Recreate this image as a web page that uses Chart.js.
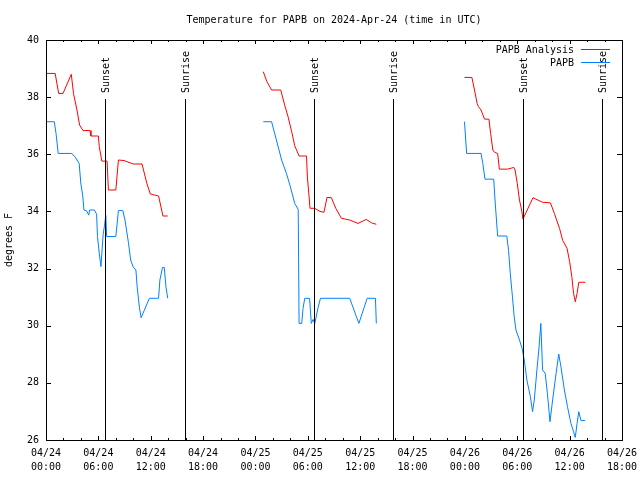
<!DOCTYPE html>
<html>
<head>
<meta charset="utf-8">
<script src="https://cdn.jsdelivr.net/npm/chart.js@4.4.1/dist/chart.umd.min.js"></script>
<style>
    html, body { margin: 0; padding: 0; background: #fff; }
</style>
</head>
<body>
<canvas id="tempChart" width="640" height="480"></canvas>
<script>
// hours counted from 04/24 00:00 UTC
const dayLabels = ['04/24', '04/25', '04/26'];
const sunHours = [6.72, 15.88, 30.69, 39.8, 54.71, 63.75];
const sunLabels = ['Sunset', 'Sunrise', 'Sunset', 'Sunrise', 'Sunset', 'Sunrise'];

const analysisHours = [
    0.1, 1.05, 1.45, 1.95, 2.9, 3.15, 3.55, 3.85, 4.25, 5.05, 5.15, 6.0, 6.1, 6.4, 7.0, 7.15, 8.0, 8.3, 8.95, 10.0, 11.0, 11.55, 11.95, 12.9, 13.4, 13.95,
    24.9, 25.3, 25.85, 26.9, 27.35, 27.75, 28.15, 28.5, 29.0, 29.85, 29.95, 30.15, 30.25, 30.8, 31.4, 31.85, 32.2, 32.7, 33.2, 33.85, 34.8, 35.75, 36.7, 37.3, 37.85,
    47.95, 48.8, 49.1, 49.4, 49.55, 49.85, 50.25, 50.75, 50.95, 51.2, 51.4, 51.75, 51.95, 52.9, 53.6, 53.75, 54.0, 54.25, 54.5, 54.65, 55.8, 56.9, 57.8, 58.25, 58.85, 59.2, 59.7, 60.0, 60.25, 60.45, 60.65, 60.85, 61.05, 61.8
];
const analysisTemps = [
    38.83, 38.83, 38.13, 38.13, 38.8, 38.13, 37.55, 37.02, 36.83, 36.83, 36.64, 36.64, 36.27, 35.76, 35.76, 34.75, 34.75, 35.8, 35.78, 35.66, 35.66, 34.99, 34.61, 34.54, 33.84, 33.84,
    38.89, 38.55, 38.25, 38.25, 37.72, 37.3, 36.79, 36.3, 35.94, 35.94, 35.2, 34.5, 34.11, 34.11, 34.0, 33.97, 34.49, 34.48, 34.11, 33.76, 33.7, 33.58, 33.72, 33.6, 33.55,
    38.69, 38.69, 38.25, 37.78, 37.67, 37.55, 37.23, 37.23, 36.73, 36.15, 36.07, 36.03, 35.48, 35.48, 35.54, 35.45, 34.98, 34.4, 34.05, 33.73, 34.48, 34.32, 34.3, 33.93, 33.4, 32.99, 32.71, 32.24, 31.72, 31.13, 30.84, 31.13, 31.52, 31.52
];

const obsHours = [
    0.1, 0.95, 1.15, 1.4, 2.95, 3.35, 3.8, 4.0, 4.2, 4.35, 4.65, 4.9, 5.0, 5.55, 5.8, 5.9, 6.1, 6.3, 6.4, 6.55, 6.7, 6.85, 6.95, 8.0, 8.3, 8.8, 9.05, 9.45, 9.7, 10.0, 10.3, 10.45, 10.7, 10.9, 11.85, 12.9, 13.05, 13.35, 13.55, 13.75, 13.95,
    24.9, 25.85, 26.4, 27.0, 27.55, 27.95, 28.5, 28.9, 29.0, 29.3, 29.45, 29.65, 30.2, 30.4, 30.6, 30.8, 31.15, 31.45, 34.8, 35.85, 36.8, 37.75, 37.85,
    47.95, 48.2, 49.85, 50.05, 50.3, 51.3, 51.45, 51.75, 52.8, 53.0, 53.2, 53.45, 53.65, 53.85, 54.25, 54.55, 54.8, 55.1, 55.5, 55.75, 55.95, 56.25, 56.5, 56.7, 56.9, 57.2, 57.45, 57.75, 58.05, 58.45, 58.75, 59.0, 59.4, 59.75, 60.15, 60.45, 60.65, 60.85, 61.05, 61.3, 61.75
];
const obsTemps = [
    37.14, 37.14, 36.73, 36.03, 36.03, 35.9, 35.68, 34.95, 34.57, 34.05, 34.02, 33.87, 34.05, 34.05, 33.9, 33.12, 32.54, 32.07, 32.54, 33.2, 33.5, 33.86, 33.12, 33.12, 34.03, 34.03, 33.7, 32.9, 32.3, 32.05, 31.95, 31.35, 30.65, 30.28, 30.96, 30.96, 31.6, 32.04, 32.04, 31.35, 30.96,
    37.14, 37.14, 36.5, 35.8, 35.33, 34.92, 34.28, 34.07, 30.08, 30.08, 30.6, 30.96, 30.96, 30.08, 30.22, 30.08, 30.6, 30.96, 30.96, 30.08, 30.96, 30.96, 30.08,
    37.14, 36.03, 36.03, 35.68, 35.13, 35.13, 34.4, 33.14, 33.14, 32.64, 31.83, 31.0, 30.31, 29.85, 29.5, 29.21, 28.8, 28.1, 27.52, 26.99, 27.4, 28.45, 29.26, 30.08, 28.45, 28.33, 27.63, 26.64, 27.4, 28.33, 29.01, 28.57, 27.75, 27.17, 26.58, 26.29, 26.09, 26.58, 26.99, 26.68, 26.68
];

const FONT = 'DejaVu Sans Mono';
Chart.defaults.font.family = FONT;
Chart.defaults.font.size = 10;
Chart.defaults.color = '#000';

// break the line between the days (no data overnight)
function toPoints(hours, temps) {
    const pts = [];
    hours.forEach((h, i) => {
        if (i > 0 && h - hours[i - 1] > 6) pts.push({ x: (h + hours[i - 1]) / 2, y: null });
        pts.push({ x: h, y: temps[i] });
    });
    return pts;
}

function pad2(n) {
    return (n < 10 ? '0' : '') + n;
}

const frame = {
    id: 'frame',
    afterDatasetsDraw(chart) {
        const ctx = chart.ctx;
        const area = chart.chartArea;
        const xs = chart.scales.x;
        const ys = chart.scales.y;
        ctx.save();
        ctx.strokeStyle = '#000';
        ctx.lineWidth = 1;

        ctx.strokeRect(area.left + 0.5, area.top + 0.5, area.right - area.left, area.bottom - area.top);

        ctx.beginPath();
        for (let h = 0; h <= 66; h += 2) {
            const px = Math.round(xs.getPixelForValue(h)) + 0.5;
            const len = h % 6 === 0 ? 4 : 2;
            ctx.moveTo(px, area.bottom);
            ctx.lineTo(px, area.bottom - len);
            ctx.moveTo(px, area.top);
            ctx.lineTo(px, area.top + len);
        }
        for (let v = 26; v <= 40; v += 2) {
            const py = Math.round(ys.getPixelForValue(v)) + 0.5;
            ctx.moveTo(area.left, py);
            ctx.lineTo(area.left + 5, py);
            ctx.moveTo(area.right, py);
            ctx.lineTo(area.right - 5, py);
        }
        ctx.stroke();

        // sunset / sunrise markers
        ctx.font = '10px ' + FONT;
        ctx.fillStyle = '#000';
        sunHours.forEach((h, i) => {
            const px = Math.round(xs.getPixelForValue(h)) + 0.5;
            ctx.beginPath();
            ctx.moveTo(px, 99);
            ctx.lineTo(px, area.bottom);
            ctx.stroke();
            ctx.save();
            ctx.translate(px, 93);
            ctx.rotate(-Math.PI / 2);
            ctx.textAlign = 'left';
            ctx.textBaseline = 'middle';
            ctx.fillText(sunLabels[i], 0, 1);
            ctx.restore();
        });

        // key, top right
        const keys = chart.data.datasets;
        keys.forEach((ds, i) => {
            const y = 50 + i * 13;
            ctx.textAlign = 'right';
            ctx.textBaseline = 'middle';
            ctx.fillStyle = '#000';
            ctx.fillText(ds.label, 574, y);
            ctx.strokeStyle = ds.borderColor;
            ctx.beginPath();
            ctx.moveTo(581, y - 0.5);
            ctx.lineTo(610, y - 0.5);
            ctx.stroke();
        });

        // y axis title
        ctx.save();
        ctx.translate(9, 240);
        ctx.rotate(-Math.PI / 2);
        ctx.textAlign = 'center';
        ctx.textBaseline = 'middle';
        ctx.fillStyle = '#000';
        ctx.fillText('degrees F', 0, 0);
        ctx.restore();

        ctx.restore();
    }
};

const ctx = document.getElementById('tempChart').getContext('2d');
new Chart(ctx, {
    type: 'line',
    data: {
        datasets: [{
            label: 'PAPB Analysis',
            data: toPoints(analysisHours, analysisTemps),
            borderColor: '#ff0000',
            borderWidth: 1,
            pointRadius: 0,
            tension: 0,
            spanGaps: false
        }, {
            label: 'PAPB',
            data: toPoints(obsHours, obsTemps),
            borderColor: '#0080ff',
            borderWidth: 1,
            pointRadius: 0,
            tension: 0,
            spanGaps: false
        }]
    },
    options: {
        responsive: false,
        animation: false,
        layout: { padding: { left: 0, right: 18, top: 0, bottom: 0 } },
        scales: {
            x: {
                type: 'linear',
                min: 0,
                max: 66,
                grid: { display: false, drawTicks: false },
                border: { display: false },
                ticks: {
                    stepSize: 6,
                    autoSkip: false,
                    maxRotation: 0,
                    padding: 7,
                    font: { size: 10, lineHeight: 1.35 },
                    callback: v => [dayLabels[Math.floor(v / 24)], pad2(v % 24) + ':00']
                },
                afterFit: s => {
                    s.height = 40;
                    s.paddingLeft = 0;
                    s.paddingRight = 0;
                }
            },
            y: {
                min: 26,
                max: 40,
                grid: { display: false, drawTicks: false },
                border: { display: false },
                ticks: { stepSize: 2, padding: 7 },
                afterFit: s => { s.width = 46; }
            }
        },
        plugins: {
            legend: { display: false },
            tooltip: { enabled: false },
            title: {
                display: true,
                fullSize: false,
                text: 'Temperature for PAPB on 2024-Apr-24 (time in UTC)',
                font: { size: 10, weight: 'normal' },
                color: '#000',
                padding: { top: 14, bottom: 14 }
            }
        }
    },
    plugins: [frame]
});
</script>
</body>
</html>
